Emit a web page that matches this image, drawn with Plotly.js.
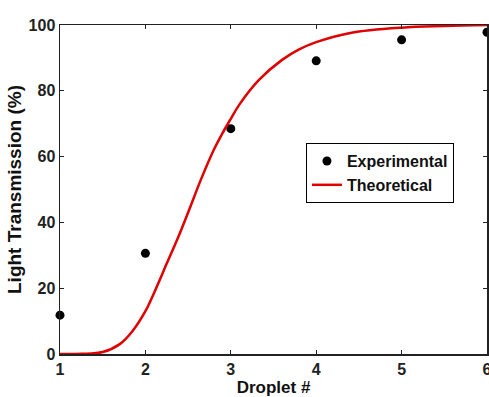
<!DOCTYPE html>
<html>
<head>
<meta charset="utf-8">
<script src="https://cdn.plot.ly/plotly-3.0.1.min.js"></script>
<style>html,body{margin:0;padding:0;background:#fff;}#chart{width:489px;height:397px;}</style>
</head>
<body>
<div id="chart"></div>
<script>
const expX = [1, 2, 3, 4, 5, 6];
const expY = [11.8, 30.6, 68.5, 89.1, 95.5, 97.8];

// Theoretical curve
const theoX = [1.0, 1.25, 1.5, 1.7, 1.85, 2.0, 2.1, 2.25, 2.4, 2.5, 2.65, 2.8, 2.9, 3.0, 3.1, 3.33, 3.6, 3.8, 4.0, 4.4, 5.0, 5.5, 6.0];
const theoY = [0, 0.05, 0.6, 3, 7, 13, 18.5, 27.5, 36.5, 43, 53, 62, 67, 71.5, 75.8, 83.3, 89.4, 92.6, 94.8, 97.6, 99.2, 99.7, 100];

const xTicks = [1, 2, 3, 4, 5, 6];
const yTicks = [0, 20, 40, 60, 80, 100];

const fontFam = 'Arial, "Liberation Sans", sans-serif';

const traces = [
  {
    x: expX, y: expY, name: 'Experimental', mode: 'markers', type: 'scatter',
    marker: {color: '#000', size: 9}, cliponaxis: false
  },
  {
    x: theoX, y: theoY, name: 'Theoretical', mode: 'lines', type: 'scatter',
    line: {color: '#e00000', width: 2.5, shape: 'spline', smoothing: 1}
  }
];

const axisCommon = {
  showgrid: false, zeroline: false, showline: true, linecolor: '#222', linewidth: 1.5,
  mirror: 'ticks', ticks: 'inside', ticklen: 4, tickwidth: 1.2, tickcolor: '#222',
  ticklabeloverflow: 'allow',
  tickfont: {family: fontFam, size: 16, color: '#222', weight: 'bold'}
};

const layout = {
  width: 489, height: 397,
  margin: {l: 60, r: 0, t: 25, b: 43},
  paper_bgcolor: '#fff', plot_bgcolor: '#fff',
  showlegend: true,
  legend: {
    x: 0.576, y: 0.641, xanchor: 'left', yanchor: 'top',
    bordercolor: '#000', borderwidth: 1, bgcolor: '#fff',
    font: {family: fontFam, size: 16, color: '#111', weight: 'bold'},
    tracegroupgap: 0, itemwidth: 30
  },
  xaxis: Object.assign({}, axisCommon, {
    range: [1, 6], tickvals: xTicks, ticktext: xTicks.map(String),
    title: {text: 'Droplet #', font: {family: fontFam, size: 17, color: '#111', weight: 'bold'}}
  }),
  yaxis: Object.assign({}, axisCommon, {
    range: [0, 100], tickvals: yTicks, ticktext: yTicks.map(String),
    automargin: true,
    title: {text: 'Light Transmission (%)', standoff: 2, font: {family: fontFam, size: 19, color: '#111', weight: 'bold'}}
  })
};

Plotly.newPlot('chart', traces, layout, {displayModeBar: false, staticPlot: true});
</script>
</body>
</html>
